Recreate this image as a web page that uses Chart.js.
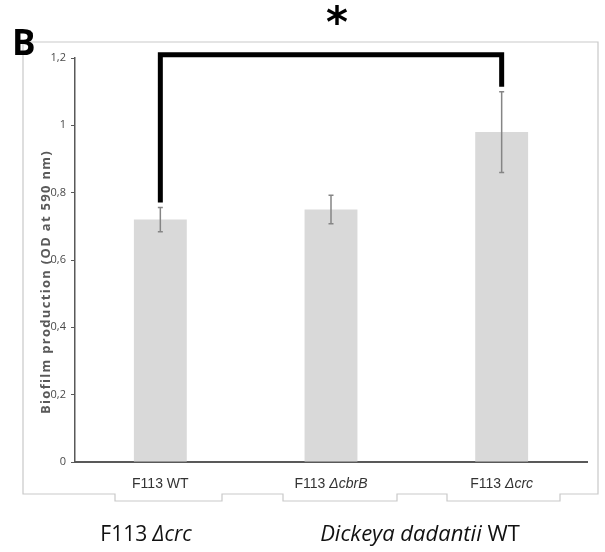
<!DOCTYPE html>
<html>
<head>
<meta charset="utf-8">
<script src="https://cdn.jsdelivr.net/npm/chart.js@4.4.1/dist/chart.umd.min.js"></script>
<style>
  html, body { margin: 0; padding: 0; background: #fff; }
  #wrap { width: 605px; height: 552px; position: relative; }
</style>
</head>
<body>
<div id="wrap"><canvas id="chart"></canvas></div>
<script>
// Biofilm production, OD at 590 nm
const strains = ['F113 WT', 'F113 ΔcbrB', 'F113 Δcrc'];
// label pieces: [text, italic]
const strainLabelParts = [
    [['F113 WT', false]],
    [['F113 ', false], ['ΔcbrB', true]],
    [['F113 ', false], ['Δcrc', true]]
];
const biofilmMeans = [0.72, 0.75, 0.98];
const biofilmErrors = [0.036, 0.042, 0.12];
const yTicks = [0, 0.2, 0.4, 0.6, 0.8, 1, 1.2];

// significance bracket between strain 0 and strain 2
const sigPair = [0, 2];
const sigLevel = 1.21;
const sigMark = '*';

// bottom caption (panel legend)
const captionLeft = [['F113 ', false], ['Δcrc', true]];
const captionRight = [['Dickeya dadantii', true], [' WT', false]];

const AXIS_GREY = '#595959';
const FRAME_GREY = '#c9c9c9';

// draw a label made of regular / italic runs, centered on cx
function drawRuns(ctx, runs, cx, cy, size, family, color) {
    const fontFor = (it) => (it ? 'italic ' : '') + size + 'px ' + family;
    let total = 0;
    for (const [t, it] of runs) {
        ctx.font = fontFor(it);
        total += ctx.measureText(t).width;
    }
    let x = cx - total / 2;
    ctx.fillStyle = color;
    ctx.textAlign = 'left';
    ctx.textBaseline = 'middle';
    for (const [t, it] of runs) {
        ctx.font = fontFor(it);
        ctx.fillText(t, x, cy);
        x += ctx.measureText(t).width;
    }
}

const decorPlugin = {
    id: 'decor',
    beforeDraw(chart) {
        const ctx = chart.ctx;
        ctx.save();
        // outer Excel-style frame with the stepped bottom edge
        ctx.strokeStyle = FRAME_GREY;
        ctx.lineWidth = 1.2;
        ctx.beginPath();
        const pts = [[23, 42], [598, 42], [598, 494], [560, 494], [560, 501], [447, 501], [447, 494],
                     [397, 494], [397, 501], [283, 501], [283, 494], [222, 494], [222, 501],
                     [115, 501], [115, 494], [23, 494]];
        pts.forEach((p, i) => i ? ctx.lineTo(p[0], p[1]) : ctx.moveTo(p[0], p[1]));
        ctx.closePath();
        ctx.stroke();
        ctx.restore();
    },
    afterDatasetsDraw(chart) {
        const ctx = chart.ctx;
        const xs = chart.scales.x;
        const ys = chart.scales.y;
        ctx.save();

        // error bars
        ctx.strokeStyle = '#858585';
        ctx.lineWidth = 1.5;
        biofilmMeans.forEach((m, i) => {
            const x = xs.getPixelForValue(i);
            const top = ys.getPixelForValue(m + biofilmErrors[i]);
            const bot = ys.getPixelForValue(m - biofilmErrors[i]);
            ctx.beginPath();
            ctx.moveTo(x, top); ctx.lineTo(x, bot);
            ctx.moveTo(x - 2.5, top); ctx.lineTo(x + 2.5, top);
            ctx.moveTo(x - 2.5, bot); ctx.lineTo(x + 2.5, bot);
            ctx.stroke();
        });

        // significance bracket
        const [a, b] = sigPair;
        const xa = xs.getPixelForValue(a);
        const xb = xs.getPixelForValue(b);
        const yTop = ys.getPixelForValue(sigLevel);
        const ya = ys.getPixelForValue(biofilmMeans[a] + biofilmErrors[a]) - 5;
        const yb = ys.getPixelForValue(biofilmMeans[b] + biofilmErrors[b]) - 5;
        ctx.strokeStyle = '#000';
        ctx.lineWidth = 5;
        ctx.lineJoin = 'miter';
        ctx.lineCap = 'butt';
        ctx.beginPath();
        ctx.moveTo(xa, ya);
        ctx.lineTo(xa, yTop);
        ctx.lineTo(xb, yTop);
        ctx.lineTo(xb, yb);
        ctx.stroke();

        ctx.fillStyle = '#000';
        ctx.font = 'bold 42px "DejaVu Sans"';
        ctx.textAlign = 'center';
        ctx.textBaseline = 'middle';
        ctx.fillText(sigMark, (xa + xb) / 2 + 6, 26);

        // category labels
        strainLabelParts.forEach((runs, i) => {
            drawRuns(ctx, runs, xs.getPixelForValue(i), 484, 14, '"Liberation Sans", Arial, sans-serif', '#333');
        });

        // y axis title
        ctx.save();
        ctx.translate(46, 282);
        ctx.rotate(-Math.PI / 2);
        ctx.font = 'bold 13px "Open Sans"';
        ctx.letterSpacing = '1.3px';
        ctx.fillStyle = AXIS_GREY;
        ctx.textAlign = 'center';
        ctx.textBaseline = 'middle';
        ctx.fillText('Biofilm production (OD at 590 nm)', 0, 0);
        ctx.restore();

        // panel letter
        ctx.fillStyle = '#000';
        ctx.font = 'bold 35px "Open Sans"';
        ctx.textAlign = 'left';
        ctx.textBaseline = 'alphabetic';
        ctx.fillText('B', 12, 55);

        // caption under the chart
        drawRuns(ctx, captionLeft, 146, 535, 21, '"Open Sans"', '#111');
        drawRuns(ctx, captionRight, 420, 535, 22, '"Open Sans"', '#111');

        ctx.restore();
    }
};

new Chart(document.getElementById('chart'), {
    type: 'bar',
    data: {
        labels: strains,
        datasets: [{
            data: biofilmMeans,
            backgroundColor: '#d9d9d9',
            borderWidth: 0,
            barPercentage: 0.31,
            categoryPercentage: 1
        }]
    },
    options: {
        responsive: true,
        maintainAspectRatio: false,
        animation: false,
        devicePixelRatio: 1,
        layout: { padding: { left: 0, right: 18, top: 58, bottom: 0 } },
        plugins: { legend: { display: false }, tooltip: { enabled: false } },
        scales: {
            x: {
                grid: { display: false },
                border: { display: true, color: AXIS_GREY, width: 2 },
                ticks: { display: false },
                afterFit(scale) { scale.height = 90; }
            },
            y: {
                min: 0,
                max: 1.2,
                afterBuildTicks(scale) { scale.ticks = yTicks.map(v => ({ value: v })); },
                afterFit(scale) { scale.width = 75; },
                grid: { display: true, drawOnChartArea: false, drawTicks: true, tickLength: 4, color: AXIS_GREY, lineWidth: 1 },
                border: { display: true, color: AXIS_GREY, width: 1.5 },
                ticks: {
                    padding: 5,
                    color: '#4a4a4a',
                    font: { family: '"Open Sans"', size: 11 },
                    callback: (v) => String(v).replace('.', ',')
                }
            }
        }
    },
    plugins: [decorPlugin]
});
</script>
</body>
</html>
